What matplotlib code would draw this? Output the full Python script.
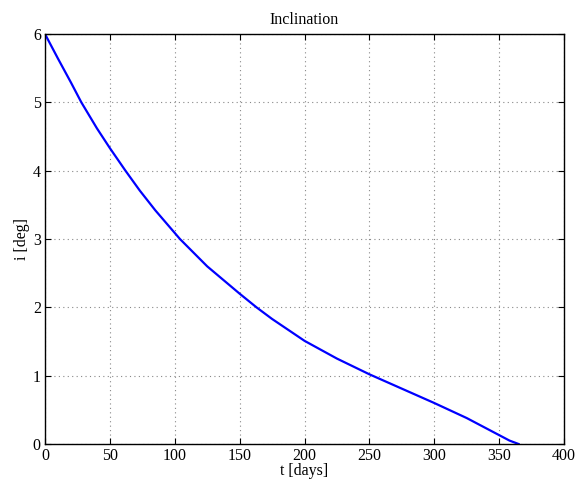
import matplotlib
matplotlib.use("Agg")
import matplotlib.pyplot as plt

t_days = [0, 10, 20, 28, 40, 50, 62, 73, 85, 104, 125, 150, 163, 175, 200, 225, 250, 275, 300, 325, 340, 350, 358, 365]
incl_deg = [6.0, 5.64, 5.29, 5.0, 4.62, 4.33, 4.0, 3.71, 3.42, 3.0, 2.6, 2.2, 2.0, 1.83, 1.51, 1.25, 1.02, 0.81, 0.60, 0.38, 0.23, 0.13, 0.05, 0.0]

xticks = [0, 50, 100, 150, 200, 250, 300, 350, 400]
yticks = [0, 1, 2, 3, 4, 5, 6]

plt.rcParams['font.family'] = ['Liberation Serif', 'DejaVu Serif']
plt.rcParams['font.size'] = 11.5

fig = plt.figure(figsize=(5.81, 4.83), dpi=100)
ax = fig.add_axes([45/581, 1-444/483, (564-45)/581, (444-34)/483])
ax.plot(t_days, incl_deg, color='#0000ff', lw=1.6)
ax.set_xlim(0, 400)
ax.set_ylim(0, 6)
ax.set_xticks(xticks)
ax.set_yticks(yticks)
ax.grid(True, linestyle=(0, (1, 3)), color='#888888', lw=0.8)
ax.tick_params(direction='in', top=True, right=True, length=4, width=0.8, pad=3)
for s in ax.spines.values():
    s.set_linewidth(1.0)
ax.set_xlabel('t [days]', labelpad=-1)
ax.set_ylabel('i [deg]', labelpad=2)
ax.set_title('Inclination', pad=7, fontsize=11.5)
fig.savefig('out.png', dpi=100)
